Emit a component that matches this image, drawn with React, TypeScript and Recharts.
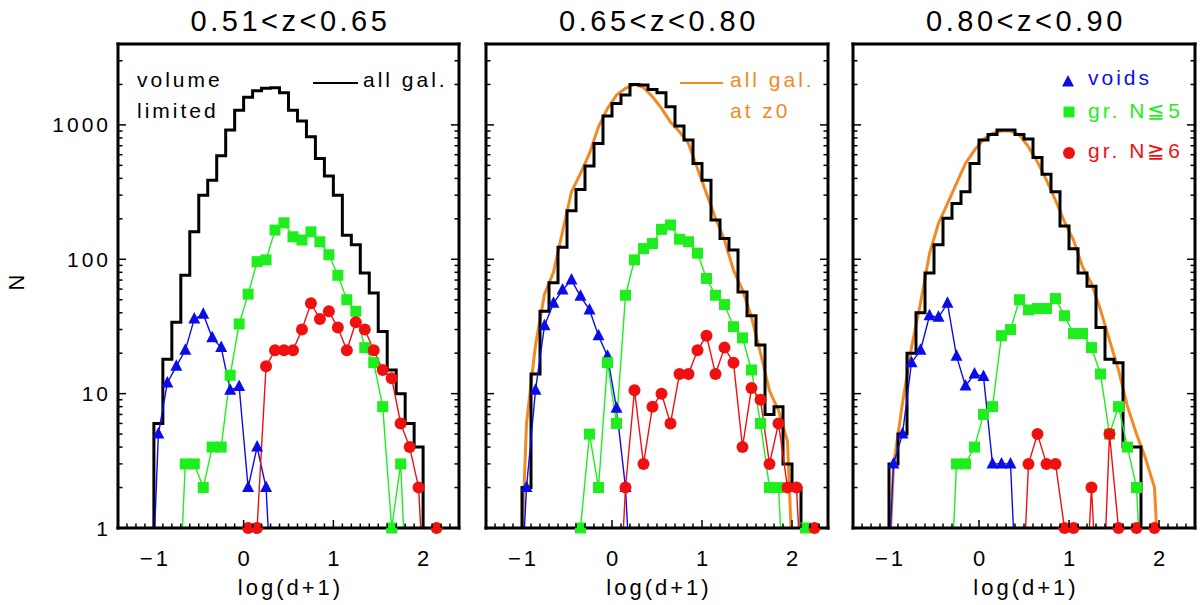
import { LineChart, Line, XAxis, YAxis } from "recharts";

const _ = null;

// centres of the 0.1-wide log(d+1) bins
const BIN_CENTERS = [
  -1.05, -0.95, -0.85, -0.75, -0.65, -0.55, -0.45, -0.35, -0.25, -0.15, -0.05,
  0.05, 0.15, 0.25, 0.35, 0.45, 0.55, 0.65, 0.75, 0.85, 0.95, 1.05, 1.15, 1.25,
  1.35, 1.45, 1.55, 1.65, 1.75, 1.85, 1.95, 2.05, 2.15, 2.25,
];

// counts per bin (null = not plotted, 0 = empty bin, drawn off the bottom)
// 0.51<z<0.65
const P1_ALL = [0, 6, 18, 34, 76, 160, 300, 388, 589, 915, 1288, 1603, 1795, 1870, 1888, 1733, 1288, 1067, 816, 563, 416, 300, 151, 128, 79, 56, 29, 15, 10, 6, 4, 0, _, _];
const P1_VOIDS = [0, 5, 12, 16, 21, 36, 39, 26, 22, 10.6, 11.3, 2, 4, 2, 0, _, _, _, _, _, _, _, _, _, _, _, _, _, _, _, _, _, _, _];
const P1_GR5 = [_, _, _, 0, 3, 3, 2, 4, 4, 13.7, 33, 55, 96, 99, 165, 187, 147, 139, 160, 135, 108, 76, 50, 41, 22, 17, 8, 1, 3, 0, _, _, _, _];
const P1_GR6 = [_, _, _, _, _, _, _, _, _, _, 0, 1, 1, 16, 21, 21, 21, 30, 47, 36, 41, 31, 21, 34, 30, 21, 15, 13, 6, 4, 2, 0, 1, _];

// 0.65<z<0.80
const P2_ALL = [0, 2, 14, 41, 67, 123, 230, 331, 494, 728, 1164, 1445, 1667, 2000, 1977, 1836, 1733, 1364, 980, 771, 517, 388, 196, 143, 117, 57, 38, 23, 7, 8, 3, 2, 0, _];
const P2_Z0 = [0, 6, 23, 55, 80, 160, 318, 435, 614, 968, 1327, 1667, 1870, 2000, 1900, 1620, 1327, 1050, 888, 728, 474, 308, 202, 139, 83, 59, 37, 20, 10.5, 7.5, 4.4, 0, _, _];
const P2_VOIDS = [0, 2, 10.6, 32, 47, 59, 70, 53, 42, 27, 19, 7.8, 2, 0, _, _, _, _, _, _, _, _, _, _, _, _, _, _, _, _, _, _, _, _];
const P2_GR5 = [_, _, _, _, _, _, 0, 1, 5, 2, 17, 6, 54, 99, 120, 131, 167, 180, 141, 135, 111, 72, 54, 46, 31.5, 26, 15, 6, 2, 2, 0, 0, 1, _];
const P2_GR6 = [_, _, _, _, _, _, _, _, _, _, _, 0, 2, 10.6, 3, 8, 10, 6, 14, 14, 21, 27, 14, 22, 17, 4, 11, 9, 3, 6, 2, 2, 0, 1];

// 0.80<z<0.90
const P3_ALL = [0, 3, 5, 20, 40, 79, 128, 202, 260, 318, 517, 771, 850, 915, 915, 850, 784, 573, 430, 318, 177, 120, 79, 63, 31, 18, 17, 4, 4, 0, _, _, _, _];
const P3_Z0 = [0, 2.9, 8.5, 22, 47, 110, 185, 260, 367, 517, 649, 780, 866, 900, 900, 840, 686, 530, 388, 275, 190, 139, 88, 66, 42, 25, 15, 8, 5, 3.3, 2, 0, _, _];
const P3_VOIDS = [0, 3, 5, 17, 21, 38, 37, 47, 19, 11.4, 14, 13.4, 3, 3, 3, 0, _, _, _, _, _, _, _, _, _, _, _, _, _, _, _, _, _, _];
const P3_GR5 = [_, _, _, _, _, _, _, 0, 3, 3, 4, 7, 8, 27, 30, 50, 42, 43, 43, 51, 38, 28, 28, 22, 14, 5, 8, 4, 2, 0, _, _, _, _];
const P3_GR6 = [_, _, _, _, _, _, _, _, _, _, _, _, _, _, _, 0, 3, 5, 3, 3, 1, 1, 0, 2, 0, 5, 1, 0, 1, 0, 1, _, _, _];

const TITLES = ["0.51<z<0.65", "0.65<z<0.80", "0.80<z<0.90"];

const X_MAJOR = [-1, 0, 1, 2];
const X_LABELS = ["\u22121", "0", "1", "2"];
const Y_MAJOR = [1, 10, 100, 1000];
const Y_LABELS = ["1", "10", "100", "1000"];
const X_DOMAIN = [-1.4, 2.4];
const Y_DOMAIN = [1, 4000];

// minor ticks every 0.1 in x, 2..9 per decade in y
const X_TICKS: number[] = [];
for (let k = -13; k <= 23; k++) X_TICKS.push(k / 10);
const Y_TICKS: number[] = [];
Y_MAJOR.forEach((m) =>
  [1, 2, 3, 4, 5, 6, 7, 8, 9].forEach((s) => {
    if (m * s < 4000) Y_TICKS.push(m * s);
  })
);

const BLACK = "#000000";
const BLUE = "#0c0ce8";
const GREEN = "#1eee1e";
const RED = "#f01010";
const ORANGE = "#f28a24";
const FONT = "'Liberation Sans', Arial, Helvetica, sans-serif";
const FLOOR = 0.1; // empty bins are sent below the log axis and clipped

const ML = 80;
const MR = 20;
const PLOT_TOP = 44;
const PLOT_BOTTOM = 528;
const AX = 1; // axes need a non-zero band to be drawn

const PANELS = [
  { left: 118, width: 341, all: P1_ALL, z0: null, voids: P1_VOIDS, gr5: P1_GR5, gr6: P1_GR6, yLabels: true },
  { left: 486, width: 342, all: P2_ALL, z0: P2_Z0, voids: P2_VOIDS, gr5: P2_GR5, gr6: P2_GR6, yLabels: false },
  { left: 853, width: 342, all: P3_ALL, z0: P3_Z0, voids: P3_VOIDS, gr5: P3_GR5, gr6: P3_GR6, yLabels: false },
];

function toPoints(values: (number | null)[]) {
  const pts: { x: number; n: number; raw: number }[] = [];
  values.forEach((v, i) => {
    if (v !== null) pts.push({ x: BIN_CENTERS[i], n: v > 0 ? v : FLOOR, raw: v });
  });
  return pts;
}

// only the non-empty bins get a symbol
function toMarks(values: (number | null)[]) {
  return toPoints(values).filter((d) => d.raw > 0);
}

function Marker({ shape, cx, cy, color }: { shape: string; cx: number; cy: number; color: string }) {
  if (shape === "triangle")
    return <polygon points={`${cx},${cy - 7} ${cx - 6},${cy + 4.5} ${cx + 6},${cy + 4.5}`} fill={color} />;
  if (shape === "square") return <rect x={cx - 5.5} y={cy - 5.5} width={11} height={11} fill={color} />;
  return <circle cx={cx} cy={cy} r={6} fill={color} />;
}

function makeDot(shape: string, color: string) {
  return (props: any) => {
    const { cx, cy, index } = props;
    if (cx == null || cy == null) return <g key={`e${index}`} />;
    return (
      <g key={`d${index}`}>
        <Marker shape={shape} cx={cx} cy={cy} color={color} />
      </g>
    );
  };
}

const TICK = { stroke: BLACK, strokeWidth: 1.5 };
const FRAME = { stroke: BLACK, strokeWidth: 3, strokeLinecap: "square" as const };

function xTick(side: "bottom" | "top") {
  return (props: any) => {
    const { x, y, payload } = props;
    const i = X_MAJOR.indexOf(payload.value);
    const len = i >= 0 ? 8 : 4.5;
    const dir = side === "bottom" ? -1 : 1;
    return (
      <g>
        <line x1={x} x2={x} y1={y} y2={y + dir * len} {...TICK} />
        {side === "bottom" && i >= 0 && (
          <text x={x + 1.5} y={y + 38} textAnchor="middle" fontFamily={FONT} fontSize={22} letterSpacing={3} fill={BLACK}>
            {X_LABELS[i]}
          </text>
        )}
      </g>
    );
  };
}

function yTick(side: "left" | "right", labels: boolean) {
  return (props: any) => {
    const { x, y, payload } = props;
    const i = Y_MAJOR.indexOf(payload.value);
    const len = i >= 0 ? 8 : 4.5;
    const dir = side === "left" ? 1 : -1;
    return (
      <g>
        <line x1={x} x2={x + dir * len} y1={y} y2={y} {...TICK} />
        {labels && side === "left" && i >= 0 && (
          <text x={x - 7} y={y + 7.5} textAnchor="end" fontFamily={FONT} fontSize={21} letterSpacing={3} fill={BLACK}>
            {Y_LABELS[i]}
          </text>
        )}
      </g>
    );
  };
}

function Series({ values, color, shape }: { values: (number | null)[]; color: string; shape: string }) {
  return [
    <Line
      key="line"
      xAxisId="b"
      yAxisId="l"
      data={toPoints(values)}
      dataKey="n"
      type="linear"
      stroke={color}
      strokeWidth={1.4}
      dot={false}
      activeDot={false}
      isAnimationActive={false}
    />,
    <Line
      key="marks"
      xAxisId="m"
      yAxisId="m"
      data={toMarks(values)}
      dataKey="n"
      type="linear"
      stroke="none"
      dot={makeDot(shape, color)}
      activeDot={false}
      isAnimationActive={false}
    />,
  ];
}

function Panel({ p }: { p: (typeof PANELS)[number] }) {
  return (
    <div style={{ position: "absolute", left: p.left - ML, top: 0 }}>
      <LineChart
        width={p.width + ML + MR}
        height={605}
        margin={{ top: PLOT_TOP - AX, right: MR - AX, bottom: 605 - PLOT_BOTTOM - AX, left: ML - AX }}
      >
        <XAxis
          xAxisId="b"
          orientation="bottom"
          dataKey="x"
          type="number"
          domain={X_DOMAIN}
          allowDataOverflow
          ticks={X_TICKS}
          interval={0}
          height={AX}
          tickSize={0}
          tickMargin={0}
          tickLine={false}
          axisLine={FRAME}
          tick={xTick("bottom")}
        />
        <XAxis
          xAxisId="t"
          orientation="top"
          type="number"
          domain={X_DOMAIN}
          allowDataOverflow
          ticks={X_TICKS}
          interval={0}
          height={AX}
          tickSize={0}
          tickMargin={0}
          tickLine={false}
          axisLine={FRAME}
          tick={xTick("top")}
        />
        {/* unclipped twin axes for the symbols, so those sitting on N=1 stay whole */}
        <XAxis xAxisId="m" dataKey="x" type="number" domain={X_DOMAIN} hide />
        <YAxis yAxisId="m" type="number" scale="log" domain={Y_DOMAIN} hide />
        <YAxis
          yAxisId="l"
          orientation="left"
          type="number"
          scale="log"
          domain={Y_DOMAIN}
          allowDataOverflow
          ticks={Y_TICKS}
          interval={0}
          width={AX}
          tickSize={0}
          tickMargin={0}
          tickLine={false}
          axisLine={FRAME}
          tick={yTick("left", p.yLabels)}
        />
        <YAxis
          yAxisId="r"
          orientation="right"
          type="number"
          scale="log"
          domain={Y_DOMAIN}
          allowDataOverflow
          ticks={Y_TICKS}
          interval={0}
          width={AX}
          tickSize={0}
          tickMargin={0}
          tickLine={false}
          axisLine={FRAME}
          tick={yTick("right", false)}
        />
        {p.z0 && (
          <Line
            xAxisId="b"
            yAxisId="l"
            data={toPoints(p.z0)}
            dataKey="n"
            type="linear"
            stroke={ORANGE}
            strokeWidth={3}
            dot={false}
            activeDot={false}
            isAnimationActive={false}
          />
        )}
        <Line
          xAxisId="b"
          yAxisId="l"
          data={toPoints(p.all)}
          dataKey="n"
          type="step"
          stroke={BLACK}
          strokeWidth={3}
          dot={false}
          activeDot={false}
          isAnimationActive={false}
        />
        {Series({ values: p.voids, color: BLUE, shape: "triangle" })}
        {Series({ values: p.gr5, color: GREEN, shape: "square" })}
        {Series({ values: p.gr6, color: RED, shape: "circle" })}
      </LineChart>
    </div>
  );
}

export default function App() {
  const txt = { fontFamily: FONT, letterSpacing: 3 };
  return (
    <div style={{ position: "absolute", left: 0, top: 0, width: 1200, height: 605, background: "#fff", overflow: "hidden" }}>
      {PANELS.map((p, i) => (
        <Panel key={i} p={p} />
      ))}
      <svg width={1200} height={605} style={{ position: "absolute", left: 0, top: 0, pointerEvents: "none" }}>
        {PANELS.map((p, i) => (
          <g key={i}>
            <text x={p.left + p.width / 2 + 2} y={31} textAnchor="middle" fontSize={29} {...txt} letterSpacing={3.5}>
              {TITLES[i]}
            </text>
            <text x={p.left + p.width / 2 + 2} y={595} textAnchor="middle" fontSize={22} {...txt}>
              log(d+1)
            </text>
          </g>
        ))}
        <text x={24} y={281} textAnchor="middle" fontSize={22} transform="rotate(-90 24 281)" {...txt}>
          N
        </text>

        {/* panel 1 legend */}
        <text x={137} y={87} fontSize={21} {...txt}>volume</text>
        <text x={137} y={118} fontSize={21} {...txt}>limited</text>
        <line x1={313} x2={358} y1={83} y2={83} stroke={BLACK} strokeWidth={2} />
        <text x={363} y={87} fontSize={21} {...txt}>all gal.</text>

        {/* panel 2 legend */}
        <line x1={680} x2={723} y1={83} y2={83} stroke={ORANGE} strokeWidth={2} />
        <text x={730} y={87} fontSize={21} fill={ORANGE} {...txt}>all gal.</text>
        <text x={730} y={118} fontSize={21} fill={ORANGE} {...txt}>at z0</text>

        {/* panel 3 legend */}
        <Marker shape="triangle" cx={1068} cy={82} color={BLUE} />
        <text x={1088} y={85} fontSize={21} fill={BLUE} {...txt}>voids</text>
        <Marker shape="square" cx={1069} cy={112} color={GREEN} />
        <text x={1088} y={118} fontSize={21} fill={GREEN} {...txt}>gr. N{"\u2266"}5</text>
        <Marker shape="circle" cx={1069} cy={153} color={RED} />
        <text x={1088} y={158} fontSize={21} fill={RED} {...txt}>gr. N{"\u2267"}6</text>
      </svg>
    </div>
  );
}
